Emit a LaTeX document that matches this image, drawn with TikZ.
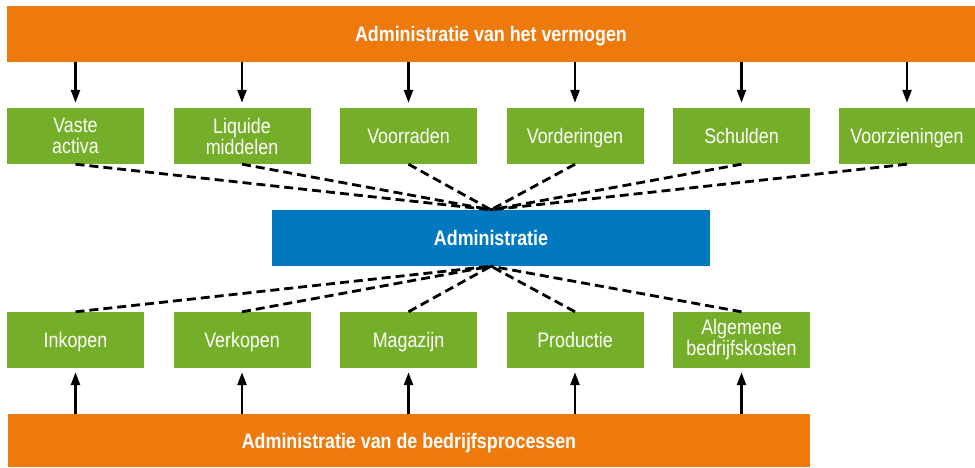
\documentclass[tikz,border=0pt]{standalone}
\usepackage{fontspec}
\setmainfont{Liberation Sans}[FakeStretch=0.85]
\usetikzlibrary{arrows.meta}

\definecolor{balkoranje}{HTML}{EE7A0E}
\definecolor{vakgroen}{HTML}{75AE29}
\definecolor{adminblauw}{HTML}{0079C1}

\tikzset{
  balk/.style={fill=balkoranje, text=white, font=\fontsize{21}{22}\selectfont\bfseries, minimum height=56pt, inner sep=0pt, text height=17pt, text depth=2pt},
  vak/.style={fill=vakgroen, text=white, font=\fontsize{21}{21}\selectfont, minimum width=137pt, minimum height=56pt, inner sep=0pt, align=center},
  enkel/.style={text height=17pt, text depth=2pt},
  pijl/.style={line width=2.5pt, -{Triangle[length=13pt,width=9pt]}},
  stippel/.style={line width=2.8pt, dash pattern=on 9pt off 5pt}
}

\begin{document}
\begin{tikzpicture}[x=1pt,y=-1pt]
\useasboundingbox (0,0) rectangle (975,467);

\node[balk, minimum width=968pt] (vermogen) at (491,34) {Administratie van het vermogen};

\node[vak] (vaste) at (75.5,136) {Vaste\\activa};
\node[vak] (liquide) at (242,136) {Liquide\\middelen};
\node[vak, enkel] (voorraden) at (408.5,136) {Voorraden};
\node[vak, enkel] (vorderingen) at (575,136) {Vorderingen};
\node[vak, enkel] (schulden) at (741.5,136) {Schulden};
\node[vak, enkel] (voorzieningen) at (907,136) {Voorzieningen};

\node[fill=adminblauw, text=white, font=\fontsize{21}{22}\selectfont\bfseries, minimum width=438pt, minimum height=56pt, inner sep=0pt, text height=17pt, text depth=2pt] (admin) at (491,238) {Administratie};

\node[vak, enkel] (inkopen) at (75.5,340) {Inkopen};
\node[vak, enkel] (verkopen) at (242,340) {Verkopen};
\node[vak, enkel] (magazijn) at (408.5,340) {Magazijn};
\node[vak, enkel] (productie) at (575,340) {Productie};
\node[vak] (algemeen) at (741.5,340) {Algemene\\bedrijfskosten};

\node[balk, minimum width=802pt, minimum height=53pt] (processen) at (409,440.5) {Administratie van de bedrijfsprocessen};

\foreach \v in {vaste,liquide,voorraden,vorderingen,schulden,voorzieningen} {
  \draw[pijl] (\v |- vermogen.south) -- ([yshift=5pt]\v.north);
  \draw[stippel] (\v.south) -- (admin.north);
}

\foreach \v in {inkopen,verkopen,magazijn,productie,algemeen} {
  \draw[pijl] (\v |- processen.north) -- ([yshift=-4pt]\v.south);
  \draw[stippel] (\v.north) -- (admin.south);
}
\end{tikzpicture}
\end{document}
